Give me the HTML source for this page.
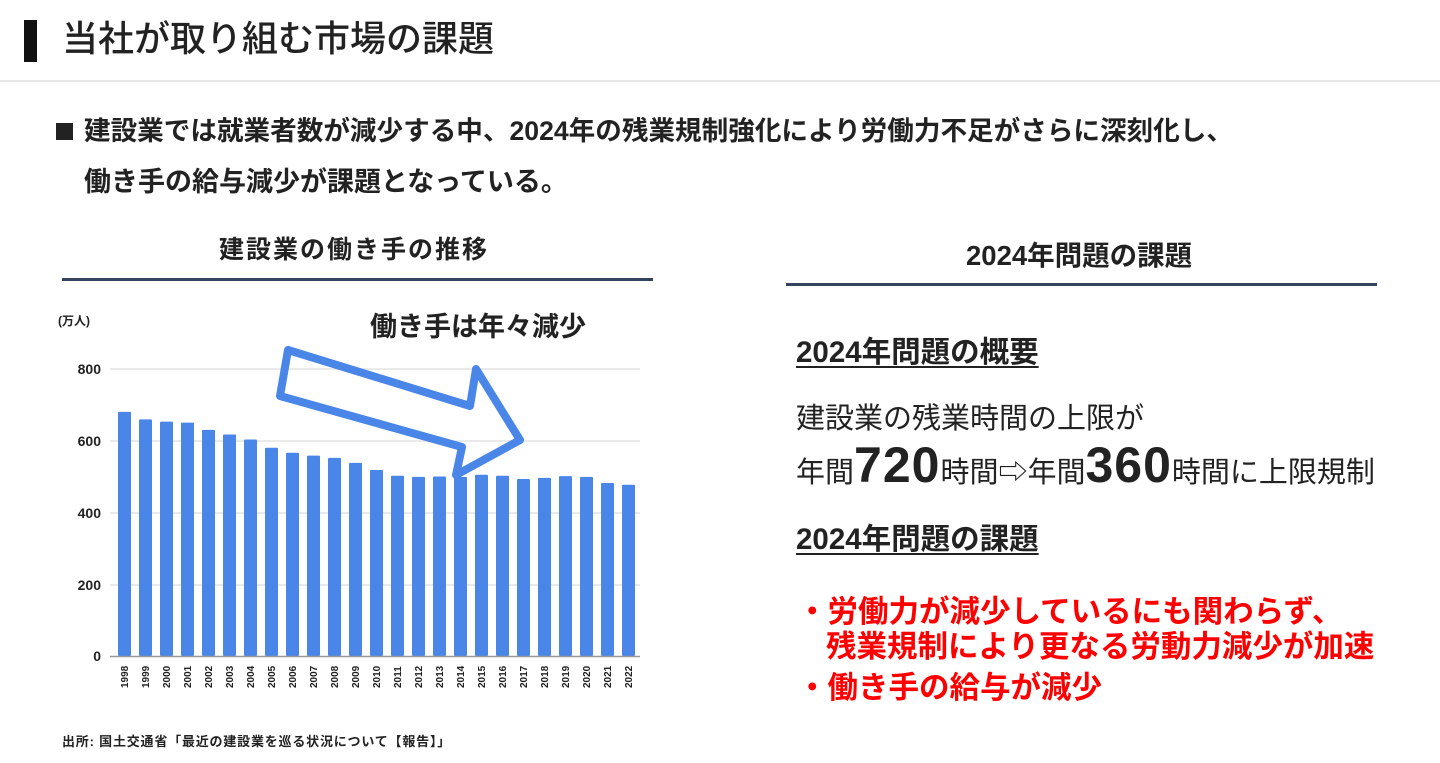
<!DOCTYPE html>
<html><head><meta charset="utf-8">
<style>
body{margin:0;width:1440px;height:763px;background:#fff;position:relative;overflow:hidden;font-family:"Liberation Sans","Noto Sans CJK JP",sans-serif;color:#222}
.a{position:absolute;white-space:nowrap;line-height:1}
.b{font-weight:bold}
.u{text-decoration:underline;text-decoration-thickness:2px;text-underline-offset:4px}
.r{color:#f00;font-weight:bold;font-size:30.5px}
</style></head><body>
<div class="a" style="left:24px;top:20px;width:13px;height:42px;background:#111"></div>
<div class="a" style="left:62px;top:21px;font-size:36px;font-weight:500">当社が取り組む市場の課題</div>
<div class="a" style="left:0;top:80px;width:1440px;height:2px;background:#e6e6e6"></div>
<div class="a" style="left:56px;top:123px;width:17px;height:17px;background:#222"></div>
<div class="a b" style="left:84px;top:118px;font-size:26.6px">建設業では就業者数が減少する中、2024年の残業規制強化により労働力不足がさらに深刻化し、</div>
<div class="a b" style="left:84px;top:169px;font-size:27px">働き手の給与減少が課題となっている。</div>

<div class="a b" style="left:219px;top:238px;font-size:25px;letter-spacing:2px">建設業の働き手の推移</div>
<div class="a" style="left:62px;top:278px;width:591px;height:3px;background:#34445e"></div>
<div class="a b" style="left:966px;top:242px;font-size:27.5px">2024年問題の課題</div>
<div class="a" style="left:786px;top:283px;width:591px;height:3px;background:#34445e"></div>

<svg class="a" style="left:0;top:0" width="700" height="763">
<text x="58" y="325" font-size="12" font-weight="bold" fill="#222" font-family="Liberation Sans,Noto Sans CJK JP,sans-serif">(万人)</text>
<g stroke="#e3e3e3" stroke-width="1.5">
<line x1="110" x2="640" y1="369" y2="369"/><line x1="110" x2="640" y1="441" y2="441"/>
<line x1="110" x2="640" y1="513" y2="513"/><line x1="110" x2="640" y1="585" y2="585"/>
</g>
<g font-size="14" font-weight="bold" fill="#222" text-anchor="end" font-family="Liberation Sans,sans-serif">
<text x="101" y="374">800</text><text x="101" y="446">600</text><text x="101" y="518">400</text><text x="101" y="590">200</text><text x="101" y="661">0</text>
</g>
<g fill="#4a86e8" id="bars"></g>
<line x1="110" x2="640" y1="656.5" y2="656.5" stroke="#999" stroke-width="1.5"/>
<g id="lbl" font-size="10" font-weight="bold" fill="#222" font-family="Liberation Sans,sans-serif"></g>
<polygon points="288,350 470,406 476,369 520,440 456,475 462,447 280,396" fill="none" stroke="#4a86e8" stroke-width="8" stroke-linejoin="round"/>
<text x="370" y="336" font-size="27" font-weight="bold" fill="#222" font-family="Liberation Sans,Noto Sans CJK JP,sans-serif">働き手は年々減少</text>
</svg>
<script>
var v=[680,659,653,650,630,617,603,580,566,558,552,538,518,502,499,500,499,505,502,493,496,501,499,482,477];
var s='',t='';
for(var i=0;i<25;i++){var x=118+i*21,h=v[i]*0.359;s+='<rect x="'+x+'" y="'+(656-h)+'" width="13" height="'+h+'" rx="1"/>';
t+='<text transform="translate('+(x+10)+',688) rotate(-90)">'+(1998+i)+'</text>';}
document.getElementById('bars').innerHTML=s;document.getElementById('lbl').innerHTML=t;
</script>

<div class="a b u" style="left:796px;top:338px;font-size:29.5px">2024年問題の概要</div>
<div class="a" style="left:796px;top:405px;font-size:29px">建設業の残業時間の上限が</div>
<div class="a" style="left:796px;top:440px;font-size:29px">年間<span style="font-size:50px;font-weight:bold;letter-spacing:1px">720</span>時間⇨年間<span style="font-size:50px;font-weight:bold;letter-spacing:1px">360</span>時間に上限規制</div>
<div class="a b u" style="left:796px;top:525px;font-size:29.5px">2024年問題の課題</div>
<div class="a r" style="left:797px;top:597px">・労働力が減少しているにも関わらず、</div>
<div class="a r" style="left:826px;top:632px">残業規制により更なる労動力減少が加速</div>
<div class="a r" style="left:797px;top:673px">・働き手の給与が減少</div>
<div class="a b" style="left:62px;top:735px;font-size:13px;letter-spacing:0.8px">出所: 国土交通省「最近の建設業を巡る状況について【報告】」</div>
</body></html>
